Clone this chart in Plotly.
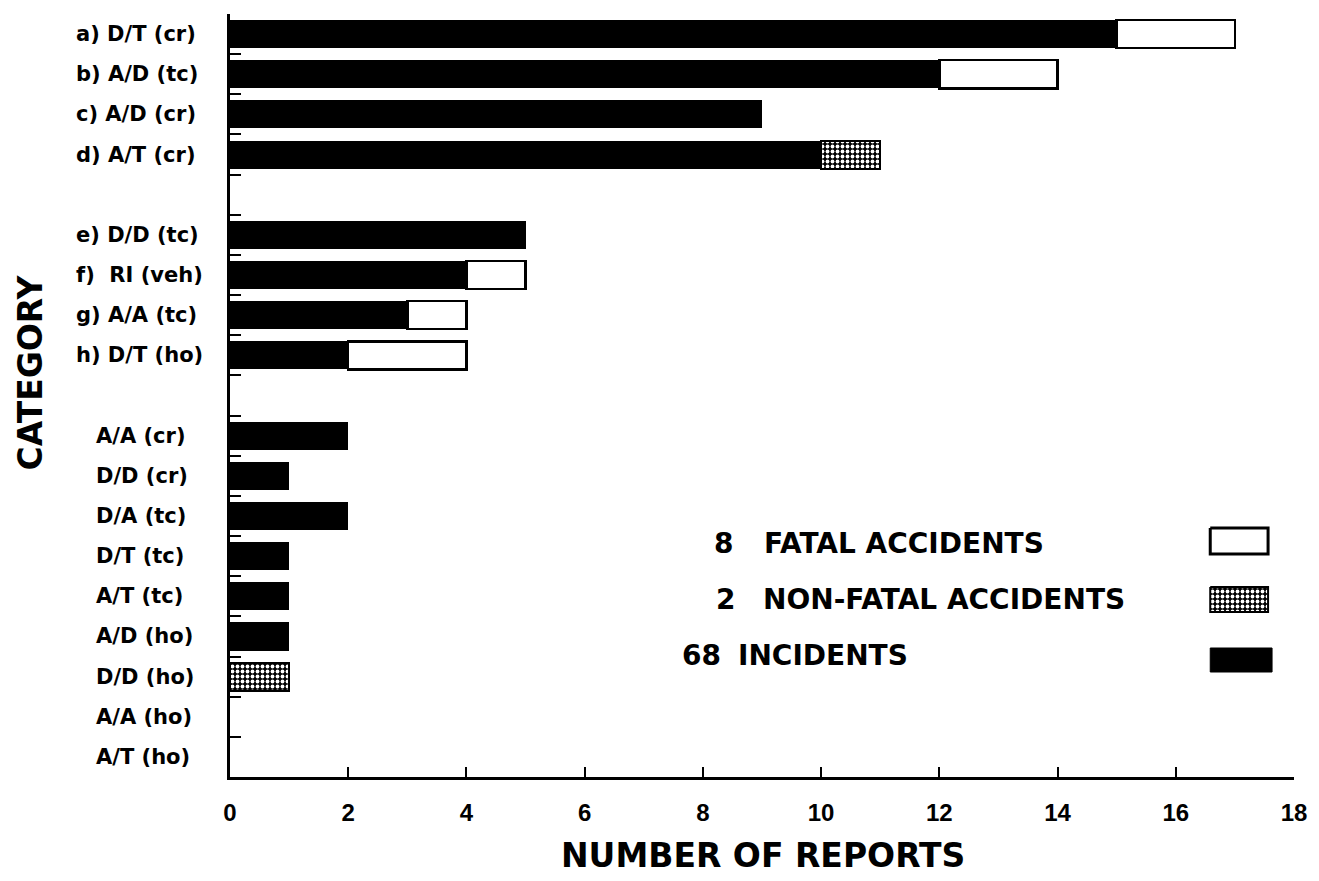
import plotly.graph_objects as go

# Report categories, top to bottom, with the block each one belongs to
categories = ["a) D/T (cr)", "b) A/D (tc)", "c) A/D (cr)", "d) A/T (cr)",
              "e) D/D (tc)", "f)  RI (veh)", "g) A/A (tc)", "h) D/T (ho)",
              "A/A (cr)", "D/D (cr)", "D/A (tc)", "D/T (tc)", "A/T (tc)",
              "A/D (ho)", "D/D (ho)", "A/A (ho)", "A/T (ho)"]
block = [0, 0, 0, 0, 1, 1, 1, 1, 2, 2, 2, 2, 2, 2, 2, 2, 2]

incidents = [15, 12, 9, 10, 5, 4, 3, 2, 2, 1, 2, 1, 1, 1, 0, 0, 0]
nonfatal = [0, 0, 0, 1, 0, 0, 0, 0, 0, 0, 0, 0, 0, 0, 1, 0, 0]
fatal = [2, 2, 0, 0, 0, 1, 1, 2, 0, 0, 0, 0, 0, 0, 0, 0, 0]

x_ticks = list(range(0, 19, 2))

FONT = "DejaVu Sans"
W, H = 1319, 881
L, R, T, B = 230, 22, 14, 104
PW, PH = W - L - R, H - T - B

# one empty row between blocks
pos = [i + b for i, b in enumerate(block)]
n_rows = pos[-1] + 1


def nz(v):
    return [x if x else None for x in v]


dots = dict(shape=".", fgcolor="white", bgcolor="black", size=5, solidity=0.45,
            fillmode="replace")

fig = go.Figure()
fig.add_trace(go.Bar(y=pos, x=nz(incidents), orientation="h", name="INCIDENTS",
                     marker=dict(color="black", line=dict(color="black", width=0))))
fig.add_trace(go.Bar(y=pos, x=nz(nonfatal), orientation="h", name="NON-FATAL ACCIDENTS",
                     marker=dict(color="black", line=dict(color="black", width=2),
                                 pattern=dots)))
fig.add_trace(go.Bar(y=pos, x=nz(fatal), orientation="h", name="FATAL ACCIDENTS",
                     marker=dict(color="white", line=dict(color="black", width=2.5))))


def px_x(xp):
    return (xp - L) / PW


def px_y(yp):
    return (T + PH - yp) / PH


annotations = []
# category labels
for name, b, p in zip(categories, block, pos):
    annotations.append(dict(text=name, x=px_x(74 if b < 2 else 94), xref="paper",
                            y=p, yref="y", xanchor="left", yanchor="middle",
                            showarrow=False,
                            font=dict(family=FONT, size=21, color="black", weight="bold")))

# axis titles
annotations.append(dict(text="NUMBER OF REPORTS", x=px_x(765), y=px_y(855),
                        xref="paper", yref="paper", xanchor="center", yanchor="middle",
                        showarrow=False,
                        font=dict(family=FONT, size=33, color="black", weight="bold")))
annotations.append(dict(text="CATEGORY", x=px_x(29), y=px_y(373), textangle=-90,
                        xref="paper", yref="paper", xanchor="center", yanchor="middle",
                        showarrow=False,
                        font=dict(family=FONT, size=33, color="black", weight="bold")))

# key: count, description, swatch
key_rows = [
    (str(sum(fatal)), "FATAL ACCIDENTS", 736, 764, 543, (1213, 1271, 528, 554), "fatal"),
    (str(sum(nonfatal)), "NON-FATAL ACCIDENTS", 738, 762, 599, (1213, 1271, 587, 612), "nonfatal"),
    (str(sum(incidents)), "INCIDENTS", 724, 737, 655, (1213, 1275, 648, 672), "incidents"),
]
kfont = dict(family=FONT, size=28, color="black", weight="bold")
for num, txt, nx, tx, ty, box, kind in key_rows:
    annotations.append(dict(text=num, x=px_x(nx), y=px_y(ty), xref="paper", yref="paper",
                            xanchor="right", yanchor="middle", showarrow=False, font=kfont))
    annotations.append(dict(text=txt, x=px_x(tx), y=px_y(ty), xref="paper", yref="paper",
                            xanchor="left", yanchor="middle", showarrow=False, font=kfont))
    x0, x1, y0, y1 = box
    sx = [x0, x1, x1, x0, x0]
    sy = [y0, y0, y1, y1, y0]
    if kind == "fatal":
        extra = dict(fillcolor="white", line=dict(color="black", width=3))
    elif kind == "nonfatal":
        extra = dict(fillcolor="black", line=dict(color="black", width=2), fillpattern=dots)
    else:
        extra = dict(fillcolor="black", line=dict(color="black", width=1))
    fig.add_trace(go.Scatter(x=sx, y=sy, mode="lines", fill="toself", xaxis="x2", yaxis="y2",
                             hoverinfo="skip", showlegend=False, **extra))

fig.update_layout(
    width=W, height=H,
    margin=dict(l=L, r=R, t=T, b=B, pad=0),
    paper_bgcolor="white", plot_bgcolor="white",
    barmode="stack", bargap=0.3, showlegend=False,
    annotations=annotations,
    xaxis=dict(range=[0, 18], tickmode="array", tickvals=x_ticks,
               ticks="inside", ticklen=10, tickwidth=2, tickcolor="black",
               showline=True, linewidth=3, linecolor="black",
               showgrid=False, zeroline=False, ticklabelstandoff=12,
               tickfont=dict(family="Liberation Sans", size=24, color="black", weight="bold")),
    yaxis=dict(range=[n_rows - 0.5, -0.5], tickmode="array",
               tickvals=[k - 0.5 for k in range(n_rows + 1)],
               ticks="inside", ticklen=11, tickwidth=2, tickcolor="black",
               showticklabels=False, showline=True, linewidth=3, linecolor="black",
               showgrid=False, zeroline=False),
    xaxis2=dict(overlaying="x", range=[L, L + PW], visible=False, fixedrange=True),
    yaxis2=dict(overlaying="y", range=[T + PH, T], visible=False, fixedrange=True),
)

fig.write_html("out.html")
